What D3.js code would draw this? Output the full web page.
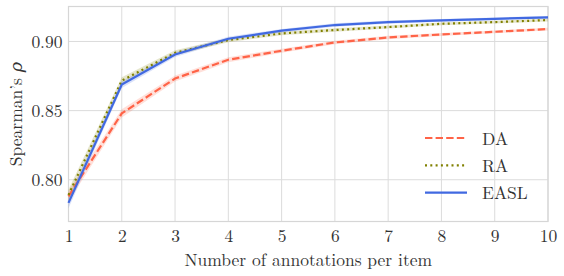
<!DOCTYPE html>
<html>
<head>
<meta charset="utf-8">
<script src="https://cdn.jsdelivr.net/npm/d3@7"></script>
<style>
	body { margin: 0; background: #fff; }
	svg text { font-family: "Latin Modern Roman", "CMU Serif", "DejaVu Serif", serif; fill: #333; }
</style>
</head>
<body>
<div id="chart"></div>
<script>
var annotations = [1, 2, 3, 4, 5, 6, 7, 8, 9, 10];
var xTicks = [1, 2, 3, 4, 5, 6, 7, 8, 9, 10];
var yTicks = [0.80, 0.85, 0.90];

var seriesNames = ["DA", "RA", "EASL"];
var daValues = [0.788, 0.848, 0.8732, 0.8868, 0.8933, 0.8993, 0.9029, 0.9051, 0.907, 0.909];
var raValues = [0.789, 0.8717, 0.8918, 0.901, 0.9058, 0.9083, 0.9104, 0.9128, 0.914, 0.9155];
var easlValues = [0.7833, 0.8688, 0.8906, 0.902, 0.9078, 0.9119, 0.914, 0.9152, 0.9164, 0.9174];
// half width of the shaded band
var daSpread = [0.004, 0.003, 0.0022, 0.0018, 0.0015, 0.0013, 0.0012, 0.0011, 0.001, 0.001];
var raSpread = [0.004, 0.0025, 0.0018, 0.0015, 0.0013, 0.0012, 0.0011, 0.001, 0.001, 0.001];
var easlSpread = [0.004, 0.0025, 0.0018, 0.0015, 0.0013, 0.0012, 0.0011, 0.001, 0.001, 0.001];

var width = 564, height = 276;
var margin = { top: 6.5, right: 16, bottom: 54.5, left: 68.5 };

var series = [
	{ name: seriesNames[0], values: daValues, spread: daSpread, color: "#ff6347", dash: "7.4,3.2" },
	{ name: seriesNames[1], values: raValues, spread: raSpread, color: "#808000", dash: "2,3.3" },
	{ name: seriesNames[2], values: easlValues, spread: easlSpread, color: "#4169e1", dash: null }
];

var svg = d3.select("#chart").append("svg")
	.attr("width", width)
	.attr("height", height);

var x = d3.scaleLinear()
	.domain([1, 10])
	.range([margin.left, width - margin.right]);

var y = d3.scaleLinear()
	.domain([0.7698, 0.9253])
	.range([height - margin.bottom, margin.top]);

// grid
var grid = svg.append("g").attr("class", "grid");
grid.selectAll("line.gx")
	.data(xTicks)
	.enter().append("line")
	.attr("x1", function(d) { return x(d); })
	.attr("x2", function(d) { return x(d); })
	.attr("y1", margin.top)
	.attr("y2", height - margin.bottom)
	.attr("stroke", "#dcdcdc")
	.attr("stroke-width", 1);
grid.selectAll("line.gy")
	.data(yTicks)
	.enter().append("line")
	.attr("x1", margin.left)
	.attr("x2", width - margin.right)
	.attr("y1", function(d) { return y(d); })
	.attr("y2", function(d) { return y(d); })
	.attr("stroke", "#dcdcdc")
	.attr("stroke-width", 1);

svg.append("rect")
	.attr("x", margin.left)
	.attr("y", margin.top)
	.attr("width", width - margin.left - margin.right)
	.attr("height", height - margin.top - margin.bottom)
	.attr("fill", "none")
	.attr("stroke", "#d6d6d6")
	.attr("stroke-width", 1.2);

// bands then lines
var area = d3.area()
	.x(function(d, i) { return x(annotations[i]); })
	.y0(function(d) { return y(d[0]); })
	.y1(function(d) { return y(d[1]); });

var line = d3.line()
	.x(function(d, i) { return x(annotations[i]); })
	.y(function(d) { return y(d); });

series.forEach(function(s) {
	var band = s.values.map(function(v, i) { return [v - s.spread[i], v + s.spread[i]]; });
	svg.append("path")
		.attr("d", area(band))
		.attr("fill", s.color)
		.attr("fill-opacity", 0.2);
});

series.forEach(function(s) {
	svg.append("path")
		.attr("d", line(s.values))
		.attr("fill", "none")
		.attr("stroke", s.color)
		.attr("stroke-width", 2.2)
		.attr("stroke-dasharray", s.dash);
});

// axes
var xAxis = d3.axisBottom(x).tickValues(xTicks).tickSize(0).tickPadding(8)
	.tickFormat(d3.format("d"));
svg.append("g")
	.attr("transform", "translate(0," + (height - margin.bottom) + ")")
	.call(xAxis)
	.call(function(g) { g.select(".domain").remove(); })
	.selectAll("text")
	.attr("font-size", 17.5)
	.attr("fill", "#333");

var yAxis = d3.axisLeft(y).tickValues(yTicks).tickSize(0).tickPadding(6)
	.tickFormat(d3.format(".2f"));
svg.append("g")
	.attr("transform", "translate(" + margin.left + ",0)")
	.call(yAxis)
	.call(function(g) { g.select(".domain").remove(); })
	.selectAll("text")
	.attr("font-size", 17.5)
	.attr("fill", "#333");

svg.append("text")
	.attr("x", (margin.left + width - margin.right) / 2)
	.attr("y", 266)
	.attr("text-anchor", "middle")
	.attr("font-size", 17.5)
	.text("Number of annotations per item");

svg.append("text")
	.attr("transform", "translate(22," + ((margin.top + height - margin.bottom) / 2) + ") rotate(-90)")
	.attr("text-anchor", "middle")
	.attr("font-size", 17.5)
	.html("Spearman\u2019s <tspan font-style=\"italic\">\u03c1</tspan>");

// legend
var legend = svg.append("g").attr("transform", "translate(425,138)");
series.forEach(function(s, i) {
	var row = legend.append("g").attr("transform", "translate(0," + (i * 27.3) + ")");
	row.append("line")
		.attr("x1", 0).attr("x2", 42)
		.attr("stroke", s.color)
		.attr("stroke-width", 2.2)
		.attr("stroke-dasharray", s.dash);
	row.append("text")
		.attr("x", 57)
		.attr("y", 6.5)
		.attr("font-size", 17.5)
		.text(s.name);
});
</script>
</body>
</html>
